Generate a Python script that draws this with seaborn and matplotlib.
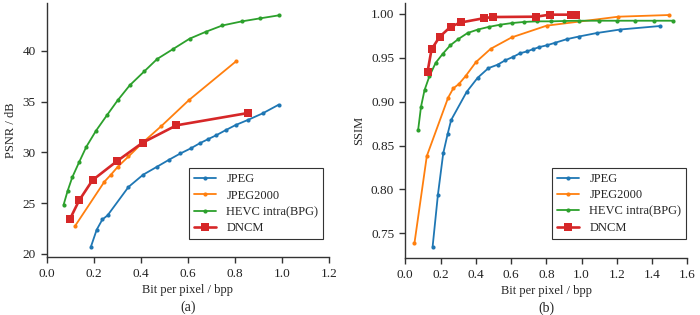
import numpy as np
import pandas as pd
import seaborn as sns
import matplotlib
import matplotlib.pyplot as plt

matplotlib.use('Agg')

sns.set_style('ticks')
plt.rcParams['font.family'] = ['Liberation Serif', 'DejaVu Serif']
plt.rcParams['font.size'] = 9

# (a) PSNR vs bpp
psnr_bpp_jpeg = [0.187, 0.212, 0.236, 0.258, 0.347, 0.409, 0.469, 0.521, 0.568, 0.612,
                 0.650, 0.685, 0.721, 0.761, 0.803, 0.855, 0.918, 0.986]
psnr_jpeg = [20.7, 22.4, 23.4, 23.8, 26.6, 27.8, 28.6, 29.3, 29.9, 30.4,
             30.9, 31.3, 31.7, 32.2, 32.7, 33.2, 33.85, 34.7]
psnr_bpp_j2k = [0.121, 0.244, 0.272, 0.302, 0.347, 0.409, 0.487, 0.604, 0.806]
psnr_j2k = [22.8, 27.1, 27.8, 28.6, 29.6, 31.0, 32.6, 35.15, 39.0]
psnr_bpp_hevc = [0.071, 0.088, 0.108, 0.137, 0.168, 0.209, 0.255, 0.301, 0.352, 0.415,
                 0.469, 0.536, 0.607, 0.675, 0.746, 0.828, 0.906, 0.987]
psnr_hevc = [24.84, 26.2, 27.56, 29.04, 30.57, 32.14, 33.65, 35.13, 36.6, 38.0,
             39.2, 40.17, 41.2, 41.87, 42.5, 42.9, 43.2, 43.5]
psnr_bpp_dncm = [0.098, 0.137, 0.194, 0.298, 0.407, 0.551, 0.855]
psnr_dncm = [23.44, 25.27, 27.27, 29.14, 30.96, 32.67, 33.88]

# (b) SSIM vs bpp
ssim_bpp_jpeg = [0.155, 0.185, 0.215, 0.240, 0.260, 0.348, 0.410, 0.471, 0.524, 0.567, 0.613,
                 0.651, 0.689, 0.723, 0.760, 0.802, 0.851, 0.916, 0.984, 1.086, 1.219, 1.446]
ssim_jpeg = [0.735, 0.794, 0.841, 0.863, 0.879, 0.911, 0.927, 0.938, 0.942, 0.947, 0.951,
             0.955, 0.957, 0.9595, 0.962, 0.964, 0.967, 0.971, 0.974, 0.978, 0.982, 0.986]
ssim_bpp_j2k = [0.052, 0.122, 0.243, 0.272, 0.304, 0.342, 0.401, 0.484, 0.603, 0.802, 1.209, 1.497]
ssim_j2k = [0.739, 0.838, 0.9045, 0.915, 0.920, 0.929, 0.945, 0.960, 0.973, 0.9864, 0.9966, 0.9985]
ssim_bpp_hevc = [0.073, 0.089, 0.109, 0.137, 0.172, 0.211, 0.255, 0.300, 0.353, 0.412, 0.474, 0.539,
                 0.607, 0.673, 0.745, 0.827, 0.902, 0.987, 1.101, 1.200, 1.300, 1.412, 1.518]
ssim_hevc = [0.868, 0.894, 0.913, 0.929, 0.944, 0.954, 0.964, 0.971, 0.978, 0.982, 0.985, 0.9875,
             0.9894, 0.9906, 0.9913, 0.9913, 0.9917, 0.992, 0.992, 0.992, 0.992, 0.992, 0.992]
ssim_bpp_dncm = [0.126, 0.149, 0.194, 0.257, 0.315, 0.444, 0.495, 0.742, 0.819, 0.939, 0.969]
ssim_dncm = [0.9337, 0.9595, 0.9735, 0.9852, 0.990, 0.9948, 0.9962, 0.9966, 0.9989, 0.9989, 0.9989]

labels = ['JPEG', 'JPEG2000', 'HEVC intra(BPG)', 'DNCM']
colors = sns.color_palette('tab10', 4)

psnr_series = [(psnr_bpp_jpeg, psnr_jpeg), (psnr_bpp_j2k, psnr_j2k),
               (psnr_bpp_hevc, psnr_hevc), (psnr_bpp_dncm, psnr_dncm)]
ssim_series = [(ssim_bpp_jpeg, ssim_jpeg), (ssim_bpp_j2k, ssim_j2k),
               (ssim_bpp_hevc, ssim_hevc), (ssim_bpp_dncm, ssim_dncm)]

fig = plt.figure(figsize=(7, 3.15), dpi=100)
ax1 = fig.add_axes([0.067, 0.184, 0.403, 0.806])
ax2 = fig.add_axes([0.579, 0.181, 0.403, 0.809])


def draw(ax, series):
    for (x, y), lab, col in zip(series, labels, colors):
        if lab == 'DNCM':
            style = dict(marker='s', markersize=6, linewidth=1.9)
        else:
            style = dict(marker='o', markersize=3, linewidth=1.3)
        sns.lineplot(x=x, y=y, ax=ax, color=col, label=lab, estimator=None,
                     sort=False, markeredgewidth=0, **style)


draw(ax1, psnr_series)
draw(ax2, ssim_series)

ax1.set(xlim=[0, 1.2], ylim=[19.7, 44.7], xticks=np.arange(0, 1.21, 0.2),
        yticks=[20, 25, 30, 35, 40], xlabel='Bit per pixel / bpp', ylabel='PSNR / dB')
ax1.set_xticklabels(['%.1f' % t for t in np.arange(0, 1.21, 0.2)])
ax2.set(xlim=[0, 1.6], ylim=[0.722, 1.012], xticks=np.arange(0, 1.61, 0.2),
        yticks=[0.75, 0.80, 0.85, 0.90, 0.95, 1.00], xlabel='Bit per pixel / bpp', ylabel='SSIM')
ax2.set_xticklabels(['%.1f' % t for t in np.arange(0, 1.61, 0.2)])
ax2.set_yticklabels(['%.2f' % t for t in [0.75, 0.80, 0.85, 0.90, 0.95, 1.00]])

for ax, anchor, tag in [(ax1, (0.98, 0.07), '(a)'), (ax2, (0.996, 0.074), '(b)')]:
    sns.despine(ax=ax)
    for s in ['left', 'bottom']:
        ax.spines[s].set_color('#333333')
        ax.spines[s].set_linewidth(1.0)
    ax.tick_params(direction='out', length=4, width=1.0, color='#333333',
                   labelsize=9.5, labelcolor='#222222', pad=4)
    ax.xaxis.label.set_size(9)
    ax.yaxis.label.set_size(9)
    ax.xaxis.labelpad = 3
    leg = ax.legend(loc='lower right', bbox_to_anchor=anchor, borderaxespad=0,
                    fancybox=False, edgecolor='#333333', framealpha=1, fontsize=9,
                    handlelength=1.8, labelspacing=0.35)
    leg.get_frame().set_linewidth(0.8)
    ax.text(0.5, -0.197, tag, transform=ax.transAxes, ha='center', va='center', fontsize=10)

fig.savefig('out.png', dpi=100)
